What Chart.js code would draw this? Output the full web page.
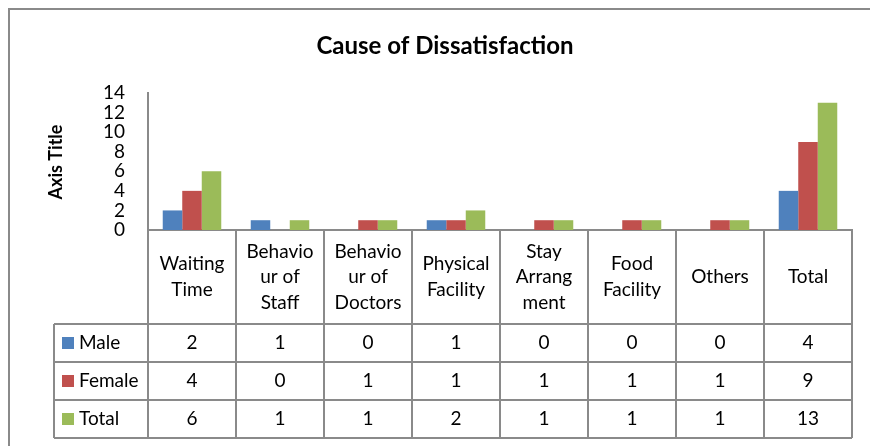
<!DOCTYPE html>
<html>
<head>
<meta charset="utf-8">
<script src="https://cdn.jsdelivr.net/npm/chart.js@4.4.1/dist/chart.umd.min.js"></script>
<style>
  html, body { margin: 0; padding: 0; background: #fff; }
</style>
</head>
<body>
<canvas id="chart" width="870" height="446"></canvas>
<script>
// data
const categories = [
    ['Waiting', 'Time'],
    ['Behavio', 'ur of', 'Staff'],
    ['Behavio', 'ur of', 'Doctors'],
    ['Physical', 'Facility'],
    ['Stay', 'Arrang', 'ment'],
    ['Food', 'Facility'],
    ['Others'],
    ['Total']
];
const seriesNames = ['Male', 'Female', 'Total'];
const male = [2, 1, 0, 1, 0, 0, 0, 4];
const female = [4, 0, 1, 1, 1, 1, 1, 9];
const total = [6, 1, 1, 2, 1, 1, 1, 13];
const yTicks = [0, 2, 4, 6, 8, 10, 12, 14];

const colors = ['#4F81BD', '#C0504D', '#9BBB59'];
const LINE = '#8a8a8a';
const FONT = 'Lato, "Open Sans", sans-serif';

const series = [male, female, total];

// draws the frame, title, axis title and the data table under the bars
const dataTable = {
    id: 'dataTable',
    beforeDraw(chart) {
        const ctx = chart.ctx;
        ctx.save();
        ctx.fillStyle = '#fff';
        ctx.fillRect(0, 0, chart.width, chart.height);
        ctx.strokeStyle = LINE;
        ctx.lineWidth = 2;
        ctx.strokeRect(9, 9, 950, 600);
        ctx.restore();
    },
    afterDraw(chart) {
        const ctx = chart.ctx;
        const x = chart.scales.x;
        const n = categories.length;
        const colW = (x.right - x.left) / n;
        const axisY = x.top;
        const rowTop = 324, rowH = 38, legendLeft = 54;
        const tableBottom = rowTop + rowH * series.length;

        ctx.save();

        // title
        ctx.fillStyle = '#000';
        ctx.font = 'bold 24px ' + FONT;
        ctx.textAlign = 'center';
        ctx.textBaseline = 'alphabetic';
        ctx.fillText('Cause of Dissatisfaction', 445, 54);

        // axis title
        ctx.save();
        ctx.translate(56, 162);
        ctx.rotate(-Math.PI / 2);
        ctx.font = 'bold 18px ' + FONT;
        ctx.textBaseline = 'middle';
        ctx.fillText('Axis Title', 0, 0);
        ctx.restore();

        // table lines
        ctx.strokeStyle = LINE;
        ctx.lineWidth = 2;
        ctx.beginPath();
        for (let i = 0; i <= n; i++) {
            const px = x.left + i * colW;
            ctx.moveTo(px, axisY);
            ctx.lineTo(px, tableBottom);
        }
        for (let r = 0; r <= series.length; r++) {
            const py = rowTop + r * rowH;
            ctx.moveTo(legendLeft, py);
            ctx.lineTo(x.right, py);
        }
        ctx.moveTo(legendLeft, rowTop);
        ctx.lineTo(legendLeft, tableBottom);
        ctx.stroke();

        // category labels
        ctx.fillStyle = '#000';
        ctx.font = '19px ' + FONT;
        ctx.textAlign = 'center';
        ctx.textBaseline = 'middle';
        const lineH = 25.5;
        const midY = (axisY + rowTop) / 2;
        categories.forEach((lines, i) => {
            const cx = x.getPixelForValue(i);
            const startY = midY - (lines.length - 1) * lineH / 2;
            lines.forEach((t, k) => ctx.fillText(t, cx, startY + k * lineH));
        });

        // rows
        series.forEach((data, r) => {
            const cy = rowTop + r * rowH + rowH / 2;
            ctx.fillStyle = colors[r];
            ctx.fillRect(62, cy - 6, 12, 12);
            ctx.fillStyle = '#000';
            ctx.textAlign = 'left';
            ctx.fillText(seriesNames[r], 79, cy);
            ctx.textAlign = 'center';
            data.forEach((v, i) => ctx.fillText(String(v), x.getPixelForValue(i), cy));
        });

        ctx.restore();
    }
};

new Chart(document.getElementById('chart'), {
    type: 'bar',
    data: {
        labels: categories,
        datasets: seriesNames.map((name, i) => ({
            label: name,
            data: series[i],
            backgroundColor: colors[i],
            categoryPercentage: 0.665,
            barPercentage: 1.0
        }))
    },
    options: {
        responsive: false,
        animation: false,
        layout: { padding: { top: 93, right: 18, bottom: 0, left: 0 } },
        plugins: {
            legend: { display: false },
            title: { display: false },
            tooltip: { enabled: false }
        },
        scales: {
            x: {
                grid: { display: false },
                border: { display: true, color: LINE, width: 2 },
                ticks: { display: false },
                afterFit(scale) { scale.height = 216; }
            },
            y: {
                min: 0,
                max: 14,
                grid: { display: false, drawTicks: false },
                border: { display: true, color: LINE, width: 2 },
                afterBuildTicks(scale) { scale.ticks = yTicks.map(v => ({ value: v })); },
                afterFit(scale) { scale.width = 148; },
                ticks: {
                    color: '#000',
                    padding: 23,
                    autoSkip: false,
                    font: { family: FONT, size: 19 }
                }
            }
        }
    },
    plugins: [dataTable]
});
</script>
</body>
</html>
